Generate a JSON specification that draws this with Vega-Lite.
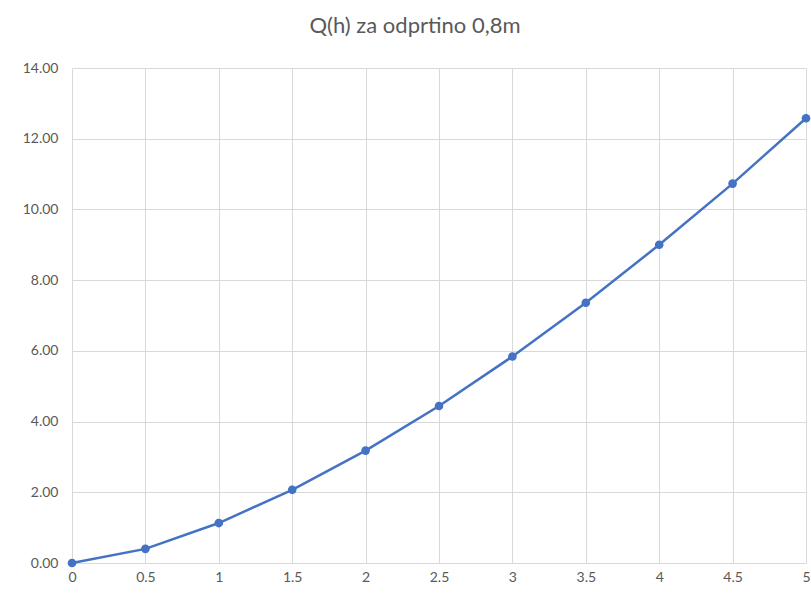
{
  "$schema": "https://vega.github.io/schema/vega-lite/v6.json",
  "autosize": "none",
  "width": 734,
  "height": 495,
  "padding": {"left": 72, "top": 68, "right": 5, "bottom": 31},
  "background": "white",
  "title": {
    "text": "Q(h) za odprtino 0,8m",
    "font": "Lato",
    "fontSize": 22,
    "fontWeight": "normal",
    "color": "#595959",
    "anchor": "middle",
    "dx": -24,
    "offset": 23
  },
  "data": {
    "values": [
      {"h": 0, "Q": 0},
      {"h": 0.5, "Q": 0.40},
      {"h": 1, "Q": 1.13},
      {"h": 1.5, "Q": 2.07},
      {"h": 2, "Q": 3.18},
      {"h": 2.5, "Q": 4.44},
      {"h": 3, "Q": 5.84},
      {"h": 3.5, "Q": 7.36},
      {"h": 4, "Q": 9.00},
      {"h": 4.5, "Q": 10.73},
      {"h": 5, "Q": 12.58}
    ]
  },
  "mark": {"type": "line", "color": "#4472C4", "strokeWidth": 2.5, "point": {"filled": true, "size": 75, "color": "#4472C4"}},
  "encoding": {
    "x": {
      "field": "h", "type": "quantitative",
      "scale": {"domain": [0, 5], "nice": false, "zero": false},
      "axis": {"title": null, "values": [0, 0.5, 1, 1.5, 2, 2.5, 3, 3.5, 4, 4.5, 5], "format": "~g", "labelFlush": false, "labelFont": "Lato", "labelFontSize": 14, "labelColor": "#595959", "ticks": false, "domain": false, "gridColor": "#d9d9d9", "labelPadding": 7}
    },
    "y": {
      "field": "Q", "type": "quantitative",
      "scale": {"domain": [0, 14], "nice": false},
      "axis": {"title": null, "values": [0, 2, 4, 6, 8, 10, 12, 14], "format": ".2f", "labelFont": "Lato", "labelFontSize": 14, "labelColor": "#595959", "ticks": false, "domain": false, "gridColor": "#d9d9d9", "labelPadding": 14}
    }
  },
  "config": {"view": {"stroke": null}}
}
